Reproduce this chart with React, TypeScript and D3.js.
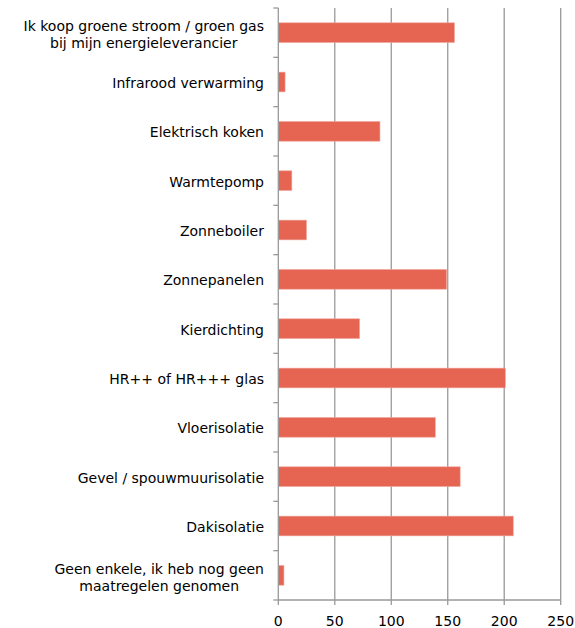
import React from "react";
import * as d3 from "d3";

const categories: string[][] = [
  ["Ik koop groene stroom / groen gas", "bij mijn energieleverancier"],
  ["Infrarood verwarming"],
  ["Elektrisch koken"],
  ["Warmtepomp"],
  ["Zonneboiler"],
  ["Zonnepanelen"],
  ["Kierdichting"],
  ["HR++ of HR+++ glas"],
  ["Vloerisolatie"],
  ["Gevel / spouwmuurisolatie"],
  ["Dakisolatie"],
  ["Geen enkele, ik heb nog geen", "maatregelen genomen"],
];
const values: number[] = [156, 6, 90, 12, 25, 149, 72, 201, 139, 161, 208, 5];
const xTicks: number[] = [0, 50, 100, 150, 200, 250];

const FONT = "'DejaVu Sans', Tahoma, Verdana, sans-serif";
const FS = 14;
let ctx: CanvasRenderingContext2D | null = null;
function measure(s: string): number {
  if (!ctx) {
    const c = document.createElement("canvas");
    ctx = c.getContext("2d");
  }
  if (!ctx) return s.length * 7.5;
  ctx.font = `${FS}px ${FONT}`;
  return ctx.measureText(s).width;
}

export default function App() {
  const W = 575, H = 628;
  const left = 278.3, right = 560.7, top = 8, bottom = 600;
  const labelRight = 264;
  const x = d3.scaleLinear().domain([0, 250]).range([left, right]);
  const keys = categories.map((_, i) => String(i));
  const y = d3.scaleBand().domain(keys).range([top, bottom]).paddingInner(0.6).paddingOuter(0.3);
  const yb = d3.scaleBand().domain(keys).range([top, bottom]);
  return (
    <svg width={W} height={H} style={{ position: "absolute", left: 0, top: 0 }}>
      <rect width={W} height={H} fill="#fff" />
      {xTicks.filter((t) => t > 0).map((t) => (
        <line key={t} x1={x(t)} x2={x(t)} y1={top} y2={bottom} stroke="#999" strokeWidth={1.3} />
      ))}
      {values.map((v, i) => (
        <rect key={i} x={x(0)} y={y(String(i))} width={x(v) - x(0)} height={y.bandwidth()} fill="#E66552" stroke="#F2A8A0" strokeWidth={0.6} />
      ))}
      <line x1={left} x2={left} y1={top} y2={bottom} stroke="#999" strokeWidth={1.3} />
      <line x1={left} x2={right} y1={bottom} y2={bottom} stroke="#999" strokeWidth={1.3} />
      {d3.range(categories.length + 1).map((i) => {
        const yy = top + i * yb.step();
        return <line key={i} x1={left - 5} x2={left} y1={yy} y2={yy} stroke="#999" strokeWidth={1.3} />;
      })}
      {xTicks.map((t) => (
        <g key={t}>
          <line x1={x(t)} x2={x(t)} y1={bottom} y2={bottom + 5} stroke="#999" strokeWidth={1.3} />
          <text x={x(t)} y={bottom + 26} textAnchor="middle" fontFamily={FONT} fontSize={FS} fill="#000">{t}</text>
        </g>
      ))}
      {categories.map((lines, i) => {
        const cy = (yb(String(i)) as number) + yb.bandwidth() / 2 + 1;
        const lh = 17.5;
        const multi = lines.length > 1;
        const maxW = Math.max(...lines.map(measure));
        const ax = multi ? labelRight - maxW / 2 : labelRight;
        return (
          <text key={i} fontFamily={FONT} fontSize={FS} fill="#000" textAnchor={multi ? "middle" : "end"}>
            {lines.map((l, j) => (
              <tspan key={j} x={ax} y={cy + (j - (lines.length - 1) / 2) * lh + 5 + (multi ? 1 : 0)}>{l}</tspan>
            ))}
          </text>
        );
      })}
    </svg>
  );
}
